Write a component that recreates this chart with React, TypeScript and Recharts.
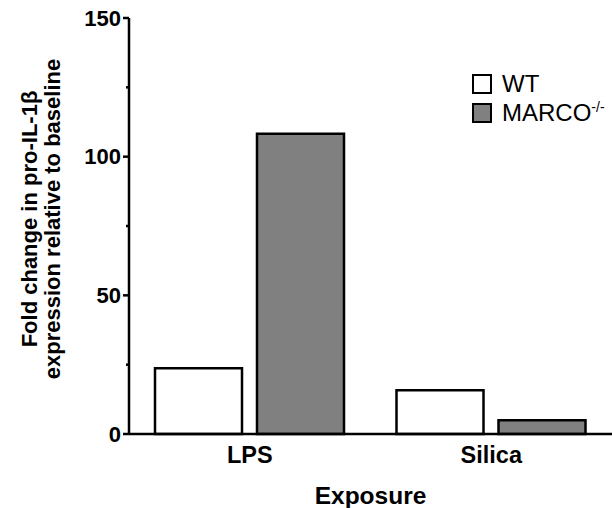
import { BarChart, Bar, XAxis, YAxis } from 'recharts';

const categories = ['LPS', 'Silica'];
const wtValues = [23.7, 15.8];
const marcoValues = [108.3, 5.0];
const yTicks = [0, 25, 50, 75, 100, 125, 150];
const majorTicks = [0, 50, 100, 150];
const seriesNames = ['WT', 'MARCO'];
const seriesFills = ['#ffffff', '#808080'];

const data = categories.map((c, i) => ({ name: c, wt: wtValues[i], marco: marcoValues[i] }));

const FONT = '"Liberation Sans", Arial, sans-serif';

// y ticks: long tick + label for major, short tick for minor
const YTick = (props: any) => {
  const { x, y, payload } = props;
  const major = majorTicks.includes(payload.value);
  return (
    <g>
      <line x1={x - (major ? 6 : 3)} y1={y} x2={x} y2={y} stroke="#000" strokeWidth={2.5} />
      {major && (
        <text x={x - 8} y={y} dy={7.5} textAnchor="end" fontFamily={FONT} fontWeight="bold" fontSize={22} fill="#000">
          {payload.value}
        </text>
      )}
    </g>
  );
};

const YLabel = (props: any) => {
  const vb = props.viewBox || { x: 0, y: 18, width: 129, height: 416 };
  const cy = vb.y + vb.height / 2 - 7;
  const x1 = vb.x + 37;
  const x2 = vb.x + 60;
  return (
    <g fontFamily={FONT} fontWeight="bold" fontSize={22} fill="#000">
      <text x={x1} y={cy} textAnchor="middle" transform={`rotate(-90, ${x1}, ${cy})`}>
        Fold change in pro-IL-1β
      </text>
      <text x={x2} y={cy} textAnchor="middle" transform={`rotate(-90, ${x2}, ${cy})`}>
        expression relative to baseline
      </text>
    </g>
  );
};

const LegendBox = () => (
  <div style={{ position: 'absolute', left: 472, top: 69, fontFamily: FONT, fontSize: 24, color: '#000' }}>
    {seriesNames.map((n, i) => (
      <div key={n} style={{ display: 'flex', alignItems: 'center', height: 29, whiteSpace: 'nowrap' }}>
        <span
          style={{
            display: 'inline-block',
            boxSizing: 'border-box',
            width: 20,
            height: 20,
            border: '2px solid #000',
            background: seriesFills[i],
            marginRight: 10,
          }}
        />
        <span>
          {n}
          {n === 'MARCO' && <sup style={{ fontSize: 14 }}>-/-</sup>}
        </span>
      </div>
    ))}
  </div>
);

export default function App() {
  return (
    <div style={{ position: 'absolute', left: 0, top: 0, width: 612, height: 508, overflow: 'hidden', background: '#fff' }}>
      <BarChart
        width={612}
        height={508}
        data={data}
        margin={{ top: 18, right: 0, bottom: 0, left: 0 }}
        barGap={15}
        barSize={87}
      >
        <XAxis
          dataKey="name"
          height={74}
          axisLine={{ stroke: '#000', strokeWidth: 2.5 }}
          tickLine={false}
          tick={{ fill: '#000', fontFamily: FONT, fontWeight: 'bold', fontSize: 23.5 }}
          tickMargin={6}
          label={{
            value: 'Exposure',
            position: 'insideBottom',
            offset: 4,
            fill: '#000',
            fontFamily: FONT,
            fontWeight: 'bold',
            fontSize: 24.5,
          }}
        />
        <YAxis
          width={129}
          domain={[0, 150]}
          ticks={yTicks}
          interval={0}
          tickSize={0}
          tickMargin={0}
          tickLine={false}
          axisLine={{ stroke: '#000', strokeWidth: 2.5 }}
          tick={<YTick />}
          label={{ content: (p: any) => <YLabel {...p} /> }}
        />
        <Bar dataKey="wt" name={seriesNames[0]} fill={seriesFills[0]} stroke="#000" strokeWidth={2.5} isAnimationActive={false} />
        <Bar dataKey="marco" name={seriesNames[1]} fill={seriesFills[1]} stroke="#000" strokeWidth={2.5} isAnimationActive={false} />
      </BarChart>
      <LegendBox />
    </div>
  );
}
